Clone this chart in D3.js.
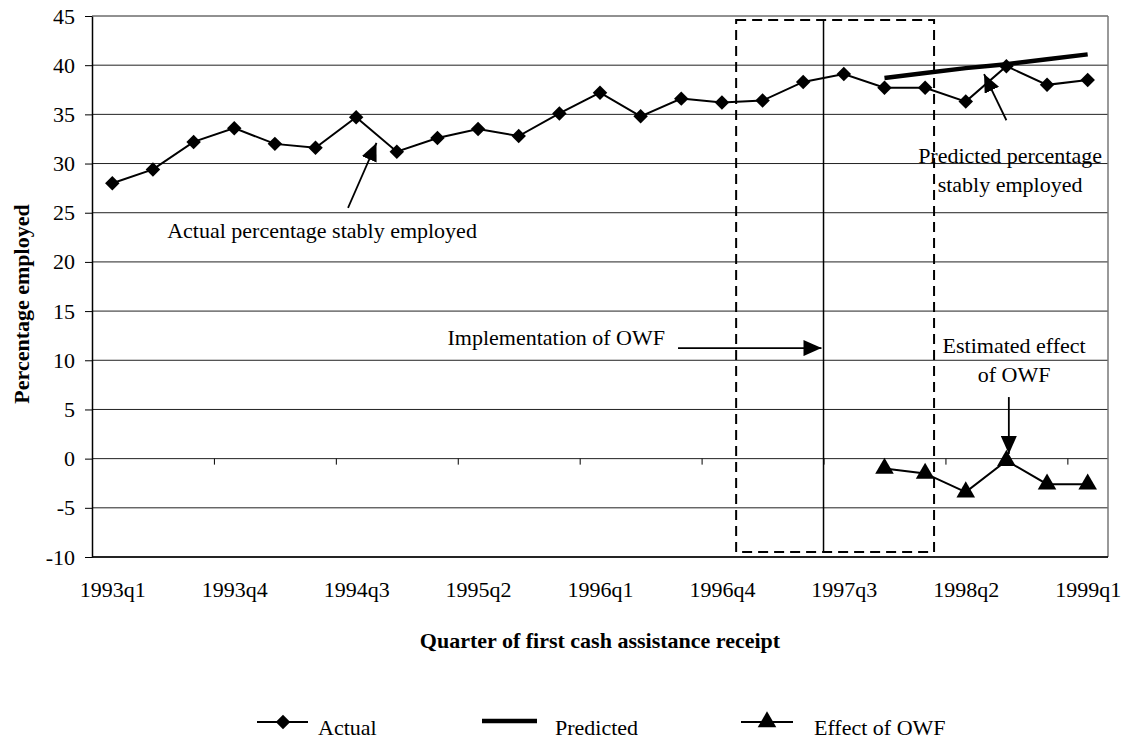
<!DOCTYPE html>
<html>
<head>
<meta charset="utf-8">
<script src="https://cdn.jsdelivr.net/npm/d3@7"></script>
<style>
  body { margin: 0; background: #fff; }
  text { font-family: "Liberation Serif", "Times New Roman", serif; fill: #000; }
</style>
</head>
<body>
<div id="viz"></div>
<script>
var width = 1127,
    height = 740;

// datos
var quarters = ['1993q1','1993q2','1993q3','1993q4','1994q1','1994q2','1994q3','1994q4',
                '1995q1','1995q2','1995q3','1995q4','1996q1','1996q2','1996q3','1996q4',
                '1997q1','1997q2','1997q3','1997q4','1998q1','1998q2','1998q3','1998q4','1999q1'];
var actual = [28.0, 29.4, 32.2, 33.6, 32.0, 31.6, 34.7, 31.2,
              32.6, 33.5, 32.8, 35.1, 37.2, 34.8, 36.6, 36.2,
              36.4, 38.3, 39.1, 37.7, 37.7, 36.3, 39.9, 38.0, 38.5];
var predQuarters = ['1997q4','1998q1','1998q2','1998q3','1998q4','1999q1'];
var predicted = [38.7, 39.2, 39.7, 40.1, 40.6, 41.1];
var effect = [-1.0, -1.5, -3.4, -0.2, -2.6, -2.6];
var yTicks = [-10, -5, 0, 5, 10, 15, 20, 25, 30, 35, 40, 45];
var xTickLabels = ['1993q1','1993q4','1994q3','1995q2','1996q1','1996q4','1997q3','1998q2','1999q1'];
var xTickMarks = [2.5, 5.5, 8.5, 11.5, 14.5, 17.5, 20.5, 23.5]; // entre categorias

var plotL = 92, plotR = 1108, plotT = 16, plotB = 557;

var svg = d3.select('#viz')
  .append('svg')
  .attr('width', width)
  .attr('height', height)
  .style('background', '#fff');

var x = d3.scalePoint().domain(quarters).range([plotL, plotR]).padding(0.5);
// misma escala en unidades de categoria, para anotaciones
var xi = d3.scaleLinear().domain([-0.5, quarters.length - 0.5]).range([plotL, plotR]);
var y = d3.scaleLinear().domain([-10, 45]).range([plotB, plotT]);

//flechas
var defs = svg.append('defs');
defs.append('marker')
  .attr('id', 'head')
  .attr('viewBox', '0 0 18 16')
  .attr('refX', 18)
  .attr('refY', 8)
  .attr('markerWidth', 18)
  .attr('markerHeight', 16)
  .attr('markerUnits', 'userSpaceOnUse')
  .attr('orient', 'auto')
  .append('path')
  .attr('d', 'M0,0 L18,8 L0,16 Z')
  .style('fill', '#000');

// grilla
svg.append('g').selectAll('line')
  .data(yTicks)
  .enter().append('line')
  .attr('x1', plotL)
  .attr('x2', plotR)
  .attr('y1', function(d) { return y(d); })
  .attr('y2', function(d) { return y(d); })
  .attr('stroke', '#222')
  .attr('stroke-width', 1);

// borde derecho
svg.append('line')
  .attr('x1', plotR).attr('x2', plotR)
  .attr('y1', plotT).attr('y2', plotB)
  .attr('stroke', '#777').attr('stroke-width', 1.5);

// eje y
var yAxis = svg.append('g')
  .attr('transform', 'translate(' + plotL + ',0)')
  .call(d3.axisLeft(y).tickValues(yTicks).tickSize(7).tickSizeOuter(0).tickPadding(10)
    .tickFormat(function(d) { return String(d); }));
yAxis.select('.domain').attr('stroke', '#000').attr('stroke-width', 1.5);
yAxis.selectAll('.tick line').attr('stroke', '#000');
yAxis.selectAll('text').style('font-size', '22px').style('font-family', '"Liberation Serif", serif');

// marcas en la linea del cero
var zeroAxis = svg.append('g')
  .attr('transform', 'translate(0,' + y(0) + ')')
  .call(d3.axisBottom(xi).tickValues(xTickMarks).tickSize(6).tickFormat(''));
zeroAxis.select('.domain').remove();
zeroAxis.selectAll('.tick line').attr('stroke', '#000');

// etiquetas eje x
var xAxis = svg.append('g')
  .attr('transform', 'translate(0,' + plotB + ')')
  .call(d3.axisBottom(x).tickValues(xTickLabels).tickSize(0).tickPadding(24));
xAxis.select('.domain').remove();
xAxis.selectAll('text').style('font-size', '22px').style('font-family', '"Liberation Serif", serif');

svg.append('line')
  .attr('x1', plotL).attr('x2', plotR)
  .attr('y1', plotB).attr('y2', plotB)
  .attr('stroke', '#000').attr('stroke-width', 1.5);

// titulos
svg.append('text')
  .attr('x', 600)
  .attr('y', 648)
  .attr('text-anchor', 'middle')
  .style('font-size', '22px')
  .style('font-weight', 'bold')
  .text('Quarter of first cash assistance receipt');

svg.append('text')
  .attr('transform', 'translate(29,304) rotate(-90)')
  .attr('text-anchor', 'middle')
  .style('font-size', '22px')
  .style('font-weight', 'bold')
  .text('Percentage employed');

// caja punteada y linea de implementacion
svg.append('rect')
  .attr('x', xi(15.35))
  .attr('y', y(44.6))
  .attr('width', xi(20.22) - xi(15.35))
  .attr('height', y(-9.5) - y(44.6))
  .style('fill', 'none')
  .attr('stroke', '#000')
  .attr('stroke-width', 2)
  .attr('stroke-dasharray', '10,6');

svg.append('line')
  .attr('x1', xi(17.5)).attr('x2', xi(17.5))
  .attr('y1', y(44.6)).attr('y2', y(-9.5))
  .attr('stroke', '#000').attr('stroke-width', 1.5);

// series
var line = d3.line()
  .x(function(d) { return x(d.q); })
  .y(function(d) { return y(d.v); });

var actualData = quarters.map(function(q, i) { return {q: q, v: actual[i]}; });
var predData = predQuarters.map(function(q, i) { return {q: q, v: predicted[i]}; });
var effectData = predQuarters.map(function(q, i) { return {q: q, v: effect[i]}; });

svg.append('path')
  .datum(predData)
  .attr('d', line)
  .style('fill', 'none')
  .attr('stroke', '#000')
  .attr('stroke-width', 4.5);

svg.append('path')
  .datum(actualData)
  .attr('d', line)
  .style('fill', 'none')
  .attr('stroke', '#000')
  .attr('stroke-width', 2);

var diamond = d3.symbol().type(d3.symbolSquare).size(105);
var triangle = d3.symbol().type(d3.symbolTriangle).size(150);

svg.append('g').selectAll('path')
  .data(actualData)
  .enter().append('path')
  .attr('d', diamond)
  .attr('transform', function(d) { return 'translate(' + x(d.q) + ',' + y(d.v) + ') rotate(45)'; })
  .style('fill', '#000');

svg.append('path')
  .datum(effectData)
  .attr('d', line)
  .style('fill', 'none')
  .attr('stroke', '#000')
  .attr('stroke-width', 2);

svg.append('g').selectAll('path')
  .data(effectData)
  .enter().append('path')
  .attr('d', triangle)
  .attr('transform', function(d) { return 'translate(' + x(d.q) + ',' + y(d.v) + ')'; })
  .style('fill', '#000');

// anotaciones
function arrow(x1, y1, x2, y2) {
  svg.append('line')
    .attr('x1', xi(x1)).attr('y1', y(y1))
    .attr('x2', xi(x2)).attr('y2', y(y2))
    .attr('stroke', '#000')
    .attr('stroke-width', 1.8)
    .attr('marker-end', 'url(#head)');
}
function label(xv, yv, anchor, txt) {
  svg.append('text')
    .attr('x', xi(xv))
    .attr('y', y(yv))
    .attr('text-anchor', anchor)
    .style('font-size', '22px')
    .text(txt);
}

label(1.35, 22.4, 'start', 'Actual percentage stably employed');
arrow(5.8, 25.5, 6.5, 32.1);

label(22.09, 30.1, 'middle', 'Predicted percentage');
label(22.09, 27.1, 'middle', 'stably employed');
arrow(22.0, 34.4, 21.45, 39.1);

label(13.6, 11.55, 'end', 'Implementation of OWF');
arrow(13.92, 11.24, 17.45, 11.24);

label(22.19, 10.7, 'middle', 'Estimated effect');
label(22.19, 7.8, 'middle', 'of OWF');
arrow(22.06, 6.26, 22.06, 0.47);

// leyenda
var legend = svg.append('g');
var ly = 722;

legend.append('line').attr('x1', 257).attr('x2', 308).attr('y1', ly).attr('y2', ly)
  .attr('stroke', '#000').attr('stroke-width', 2);
legend.append('path').attr('d', diamond)
  .attr('transform', 'translate(283,' + ly + ') rotate(45)').style('fill', '#000');
legend.append('text').attr('x', 318).attr('y', 735).style('font-size', '22px').text('Actual');

legend.append('line').attr('x1', 482).attr('x2', 537).attr('y1', ly - 1).attr('y2', ly - 1)
  .attr('stroke', '#000').attr('stroke-width', 4.5);
legend.append('text').attr('x', 555).attr('y', 735).style('font-size', '22px').text('Predicted');

legend.append('line').attr('x1', 741).attr('x2', 793).attr('y1', ly).attr('y2', ly)
  .attr('stroke', '#000').attr('stroke-width', 2);
legend.append('path').attr('d', triangle)
  .attr('transform', 'translate(767,' + ly + ')').style('fill', '#000');
legend.append('text').attr('x', 814).attr('y', 735).style('font-size', '22px').text('Effect of OWF');
</script>
</body>
</html>
